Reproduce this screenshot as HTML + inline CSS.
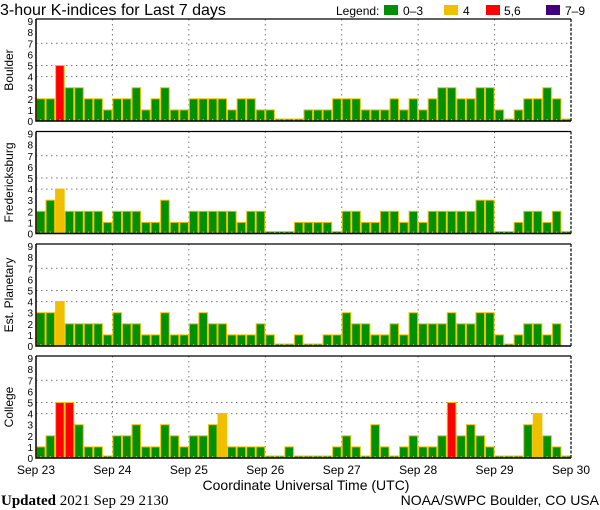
<!DOCTYPE html>
<html><head><meta charset="utf-8"><style>
body{margin:0;background:#fff;}
svg{display:block;font-family:"Liberation Sans",sans-serif;}
</style></head><body>
<svg id="chart" width="600" height="510" viewBox="0 0 600 510">
<text x="0" y="15" font-size="16">3-hour K-indices for Last 7 days</text>
<g font-size="12">
<text x="336" y="15">Legend:</text>
<rect x="384" y="5" width="14" height="10" fill="#009000"/>
<text x="403" y="15">0–3</text>
<rect x="444" y="5" width="14" height="10" fill="#f0c000"/>
<text x="463" y="15">4</text>
<rect x="486" y="5" width="14" height="10" fill="#ff0000"/>
<text x="504" y="15">5,6</text>
<rect x="546" y="5" width="14" height="10" fill="#400080"/>
<text x="565" y="15">7–9</text>
</g>
<text x="306" y="490" font-size="14" text-anchor="middle">Coordinate Universal Time (UTC)</text>
<text x="1" y="505" font-size="15" font-family="Liberation Serif,serif"><tspan font-weight="bold">Updated</tspan> 2021 Sep 29 2130</text>
<text x="599" y="505" font-size="14" text-anchor="end">NOAA/SWPC Boulder, CO USA</text>
</svg>
<script>
const stations = ["Boulder","Fredericksburg","Est. Planetary","College"];
const boulder = [2,2,5,3,3,2,2,1, 2,2,3,1,2,3,1,1, 2,2,2,2,1,2,2,1, 1,0,0,0,1,1,1,2, 2,2,1,1,1,2,1,2, 1,2,3,3,2,2,3,3, 1,0,1,2,2,3,2,0];
const fredericksburg = [2,3,4,2,2,2,2,1, 2,2,2,1,1,3,1,1, 2,2,2,2,2,1,2,2, 0,0,0,1,1,1,1,0, 2,2,1,1,2,2,1,2, 1,2,2,2,2,2,3,3, 0,0,1,2,2,1,2,0];
const planetary = [3,3,4,2,2,2,2,1, 3,2,2,1,1,3,1,1, 2,3,2,2,1,1,1,2, 1,0,0,1,0,0,1,1, 3,2,2,1,1,2,1,3, 2,2,2,3,2,2,3,3, 1,0,1,2,2,1,2,null];
const college = [1,2,5,5,3,1,1,0, 2,2,3,1,1,3,2,1, 2,2,3,4,1,1,1,1, 0,0,1,0,0,0,0,1, 2,1,0,3,1,0,1,2, 1,1,2,5,2,3,2,1, 0,0,0,3,4,2,1,0];
const dayLabels = ["Sep 23","Sep 24","Sep 25","Sep 26","Sep 27","Sep 28","Sep 29","Sep 30"];
const yTicks = [0,1,2,3,4,5,6,7,8,9];
const series = [boulder, fredericksburg, planetary, college];

const svg = document.getElementById('chart');
const NS = "http://www.w3.org/2000/svg";
const X0 = 36, X1 = 571, N = 56, PH = 102;
const panelTops = [19, 131.5, 244, 356];
const xScale = i => X0 + (X1 - X0) * i / N;
const dayX = d => X0 + (X1 - X0) * d / 7;
function yScale(p, v){ return panelTops[p] + PH - v * 11.1; }
function mk(tag, attrs, parent){ const e = document.createElementNS(NS, tag); for (const k in attrs) e.setAttribute(k, attrs[k]); (parent||svg).appendChild(e); return e; }
function color(v){ return v >= 7 ? '#400080' : v >= 5 ? '#ff0000' : v === 4 ? '#f0c000' : '#009000'; }

series.forEach((data, p) => {
  const g = mk('g', {});
  
  
  const top = panelTops[p], bot = top + PH;
  [4,5,7].forEach(v => {
    const l = mk('line', {x1:X0, x2:X1, y1:yScale(p,v), y2:yScale(p,v), stroke:'#777', 'stroke-dasharray':'1.5,3.5'}, g);
    
    
  });
  for (let d = 1; d < 7; d++) {
    const l = mk('line', {x1:dayX(d), x2:dayX(d), y1:top, y2:bot, stroke:'#777', 'stroke-dasharray':'1.5,3.5'}, g);
    
    
  }
  data.forEach((v, i) => {
    if (v === null) return;
    const x = xScale(i), w = xScale(i+1) - x;
    const h = v === 0 ? 2 : v * 11.1;
    const r = mk('rect', {x:x+0.5, y:bot-h, width:w-1, height:h, fill:color(v), stroke:'#f0c000', 'stroke-width':1}, g);
    
    
    const t = mk('line', {x1:x+w/2, x2:x+w/2, y1:bot-2, y2:bot, stroke:'#f0c000', 'stroke-width':1}, g);
    
    
  });
  const ax = mk('path', {d:`M${X0} ${top}V${bot}H${X1}`, fill:'none', stroke:'#000', 'stroke-width':1.5}, g);
  
  
  const tp = mk('line', {x1:X0, x2:X1, y1:top, y2:top, stroke:'#000', 'stroke-width':1.2}, g);
  
  
  const rb = mk('line', {x1:X1, x2:X1, y1:top, y2:bot, stroke:'#000', 'stroke-width':1.2, 'stroke-dasharray':'3,1.5'}, g);
  
  
  yTicks.forEach(v => {
    const t = mk('text', {x:33, y:yScale(p,v)+4, 'font-size':10, 'text-anchor':'end'}, g);
    t.textContent = v;
    
    
  });
  const yl = mk('text', {x:0, y:0, 'font-size':12, 'text-anchor':'middle', transform:`translate(13,${top+PH/2}) rotate(-90)`}, g);
  yl.textContent = stations[p];
  
  
});
dayLabels.forEach((s, d) => {
  const t = mk('text', {x:dayX(d), y:474, 'font-size':12, 'text-anchor':'middle'});
  t.textContent = s;
  
  
});
</script>
</body></html>
